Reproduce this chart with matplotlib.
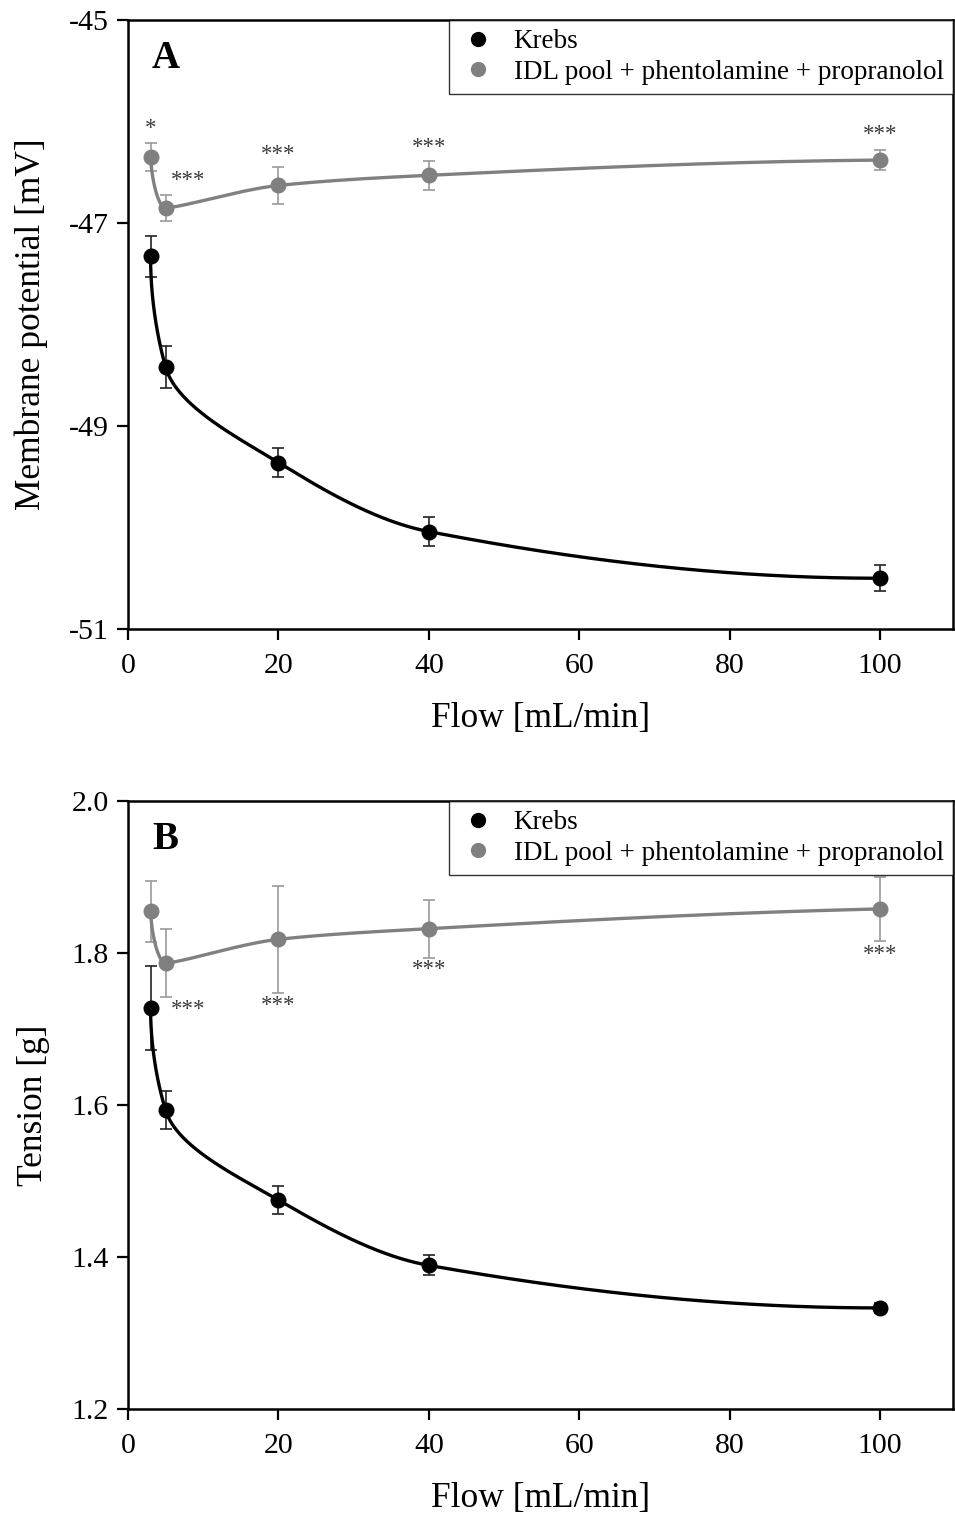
import numpy as np
import matplotlib
matplotlib.use("Agg")
import matplotlib.pyplot as plt

plt.rcParams['font.family'] = ['Liberation Serif', 'DejaVu Serif']
plt.rcParams['axes.unicode_minus'] = False

flow = [3, 5, 20, 40, 100]

# Panel A: membrane potential [mV]
mp_krebs = [-47.33, -48.42, -49.36, -50.04, -50.50]
mp_krebs_err = [0.20, 0.21, 0.14, 0.14, 0.13]
mp_idl = [-46.35, -46.85, -46.63, -46.53, -46.38]
mp_idl_err = [0.14, 0.13, 0.18, 0.14, 0.10]
mp_stars = ['*', '***', '***', '***', '***']

# Panel B: tension [g]
ten_krebs = [1.728, 1.593, 1.475, 1.389, 1.333]
ten_krebs_err = [0.055, 0.025, 0.019, 0.013, 0.007]
ten_idl = [1.855, 1.787, 1.818, 1.832, 1.858]
ten_idl_err = [0.040, 0.045, 0.070, 0.038, 0.042]
ten_stars = ['', '***', '***', '***', '***']

labels = ['Krebs', 'IDL pool + phentolamine + propranolol']
xticks = [0, 20, 40, 60, 80, 100]


def pchip(x, y, xn):
    x = np.asarray(x, float); y = np.asarray(y, float)
    h = np.diff(x); d = np.diff(y) / h
    n = len(x); m = np.zeros(n)
    for k in range(1, n - 1):
        if d[k - 1] * d[k] > 0:
            w1 = 2 * h[k] + h[k - 1]; w2 = h[k] + 2 * h[k - 1]
            m[k] = (w1 + w2) / (w1 / d[k - 1] + w2 / d[k])

    def end(h0, h1, d0, d1):
        s = ((2 * h0 + h1) * d0 - h0 * d1) / (h0 + h1)
        if np.sign(s) != np.sign(d0):
            s = 0.0
        elif np.sign(d0) != np.sign(d1) and abs(s) > abs(3 * d0):
            s = 3 * d0
        return s
    m[0] = end(h[0], h[1], d[0], d[1])
    m[-1] = end(h[-1], h[-2], d[-1], d[-2])
    idx = np.clip(np.searchsorted(x, xn) - 1, 0, n - 2)
    t = (xn - x[idx]) / h[idx]
    h00 = 2 * t**3 - 3 * t**2 + 1; h10 = t**3 - 2 * t**2 + t
    h01 = -2 * t**3 + 3 * t**2; h11 = t**3 - t**2
    return h00 * y[idx] + h10 * h[idx] * m[idx] + h01 * y[idx + 1] + h11 * h[idx] * m[idx + 1]


def smooth_curve(ax, xv, yv):
    # parametric monotone spline in screen space (chord-length parameter)
    pts = ax.transData.transform(np.column_stack([xv, yv]))
    d = np.sqrt((np.diff(pts, axis=0) ** 2).sum(axis=1))
    t = np.concatenate([[0], np.cumsum(d)])
    tn = np.linspace(0, t[-1], 1000)
    px = pchip(t, pts[:, 0], tn)
    py = pchip(t, pts[:, 1], tn)
    out = ax.transData.inverted().transform(np.column_stack([px, py]))
    return out[:, 0], out[:, 1]


fig = plt.figure(figsize=(9.55, 15.15), dpi=100)
W, H = 955, 1515
axA = fig.add_axes([128 / W, 1 - 629 / H, (953 - 128) / W, (629 - 20) / H])
axB = fig.add_axes([128 / W, 1 - 1409 / H, (953 - 128) / W, (1409 - 801) / H])

black = '#000000'
gray = '#808080'


def panel(ax, yk, ek, yi, ei, stars, star_pos, ylim, yticks, ylabel, letter):
    ax.set_xlim(0, 109.7)
    ax.set_ylim(*ylim)
    cx, cy = smooth_curve(ax, flow, yk)
    ax.plot(cx, cy, color=black, lw=2.4, zorder=3)
    cx, cy = smooth_curve(ax, flow, yi)
    ax.plot(cx, cy, color=gray, lw=2.4, zorder=3)
    ax.errorbar(flow, yk, yerr=ek, fmt='none', ecolor='#222222', elinewidth=1.2,
                capsize=4.5, capthick=1.2, zorder=2)
    ax.errorbar(flow, yi, yerr=ei, fmt='none', ecolor='#9a9a9a', elinewidth=1.2,
                capsize=4.5, capthick=1.2, zorder=2)
    ax.plot(flow, yk, 'o', color=black, ms=10.5, zorder=4, label=labels[0])
    ax.plot(flow, yi, 'o', color=gray, ms=10.5, zorder=4, label=labels[1])
    for xv, s, (dx, dy) in zip(flow, stars, star_pos):
        if s:
            ax.text(xv + dx, dy, s, ha='center', va='center', fontsize=16.5,
                    color='#3a3a3a')
    ax.set_xticks(xticks)
    ax.set_yticks(yticks)
    ax.tick_params(axis='both', direction='out', length=8, width=1.6,
                   labelsize=21.5, top=False, right=False)
    ax.tick_params(axis='x', pad=9)
    ax.tick_params(axis='y', pad=6)
    for sp in ax.spines.values():
        sp.set_linewidth(1.8)
    ax.set_xlabel('Flow [mL/min]', fontsize=25.5, labelpad=17)
    ax.set_ylabel(ylabel, fontsize=25.5, labelpad=15)
    ax.text(0.029, 0.967, letter, transform=ax.transAxes, fontsize=28,
            fontweight='bold', va='top', ha='left')
    leg = ax.legend(loc='upper right', fontsize=19.5, frameon=True, fancybox=False,
                    edgecolor='black', borderaxespad=0, handletextpad=0.55,
                    handlelength=1.5, borderpad=0.35, labelspacing=0.2,
                    markerscale=0.95)
    leg.get_frame().set_linewidth(1.0)


panel(axA, mp_krebs, mp_krebs_err, mp_idl, mp_idl_err, mp_stars,
      [(0, -46.07), (3, -46.58), (0, -46.33), (0, -46.26), (0, -46.13)],
      (-51, -45), [-51, -49, -47, -45], 'Membrane potential [mV]', 'A')
panel(axB, ten_krebs, ten_krebs_err, ten_idl, ten_idl_err, ten_stars,
      [(0, 0), (3, 1.726), (0, 1.731), (0, 1.778), (0, 1.798)],
      (1.2, 2.0), [1.2, 1.4, 1.6, 1.8, 2.0], 'Tension [g]', 'B')

fig.savefig('out.png', dpi=100)
